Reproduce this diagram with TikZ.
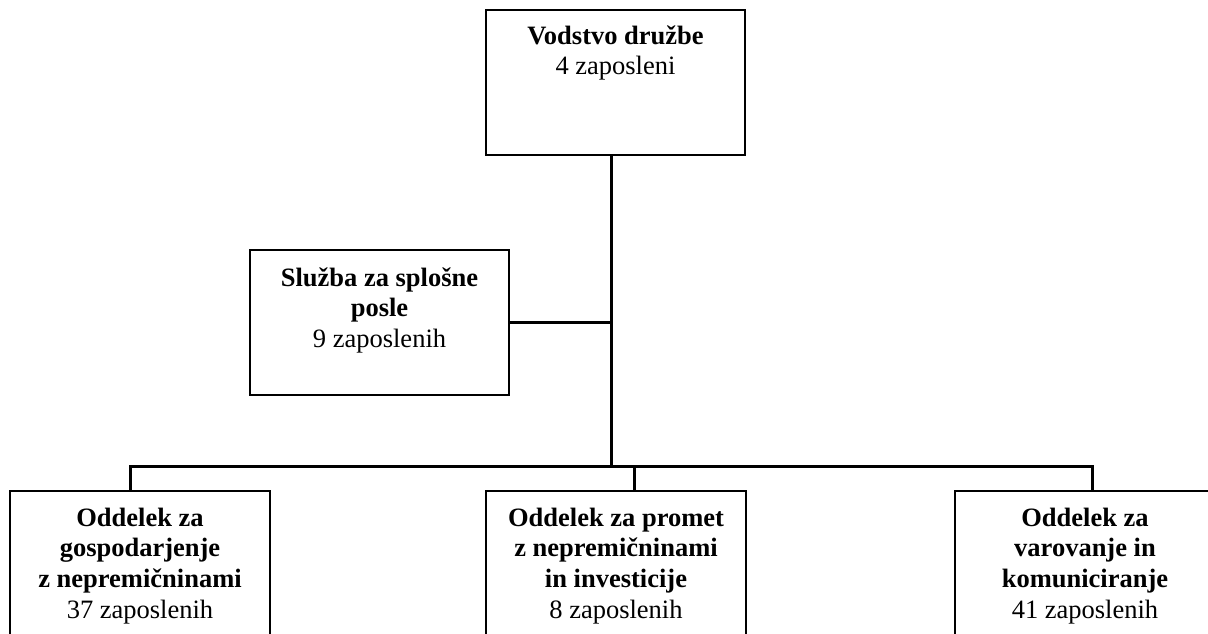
\documentclass[tikz,border=0pt]{standalone}
\usepackage{fontspec}
\setmainfont{Liberation Serif}
\begin{document}
\begin{tikzpicture}[x=1pt,y=-1pt,
  orgbox/.style={draw=black, line width=1.8pt, rectangle, inner sep=0pt, minimum width=#1, fill=white},
  orgtext/.style={anchor=north, inner sep=0pt, align=center, font=\fontsize{26.5}{30.6}\selectfont},
  conn/.style={line width=3pt}]
\clip (0,0) rectangle (1208,633);
\fill[white] (0,0) rectangle (1208,633);
% boxes
\node[orgbox=259pt, minimum height=145pt] (top) at (615.5,82.5) {};
\node[orgbox=259pt, minimum height=145pt] (mid) at (379.5,322.5) {};
\node[orgbox=260pt, minimum height=160pt] (b1) at (140,571) {};
\node[orgbox=260pt, minimum height=160pt] (b2) at (616,571) {};
\node[orgbox=260pt, minimum height=160pt] (b3) at (1085,571) {};
% texts
\newcommand{\fl}{\rule{0pt}{20pt}}
\node[orgtext] (ttop) at ([yshift=-15pt]top.north) {\fl\textbf{Vodstvo družbe}\\4 zaposleni};
\node[orgtext] (tmid) at ([yshift=-17pt]mid.north) {\fl\textbf{Služba za splošne}\\\textbf{posle}\\9 zaposlenih};
\node[orgtext] (tb1) at ([yshift=-16pt]b1.north) {\fl\textbf{Oddelek za}\\\textbf{gospodarjenje}\\\textbf{z nepremičninami}\\37 zaposlenih};
\node[orgtext] (tb2) at ([yshift=-16pt]b2.north) {\fl\textbf{Oddelek za promet}\\\textbf{z nepremičninami}\\\textbf{in investicije}\\8 zaposlenih};
\node[orgtext] (tb3) at ([yshift=-16pt]b3.north) {\fl\textbf{Oddelek za}\\\textbf{varovanje in}\\\textbf{komuniciranje}\\41 zaposlenih};
% connectors
\coordinate (bus) at (611,466);
\coordinate (s1) at (130,466);
\coordinate (s2) at (634,466);
\coordinate (s3) at (1092,466);
\draw[conn] (top.south -| bus) -- (bus);
\draw[conn] (mid.east) -- (mid.east -| bus);
\draw[conn, line join=miter] (s1 |- b1.north) -- (s1) -- (s3) -- (s3 |- b3.north);
\draw[conn] (s2) -- (s2 |- b2.north);
\end{tikzpicture}
\end{document}
